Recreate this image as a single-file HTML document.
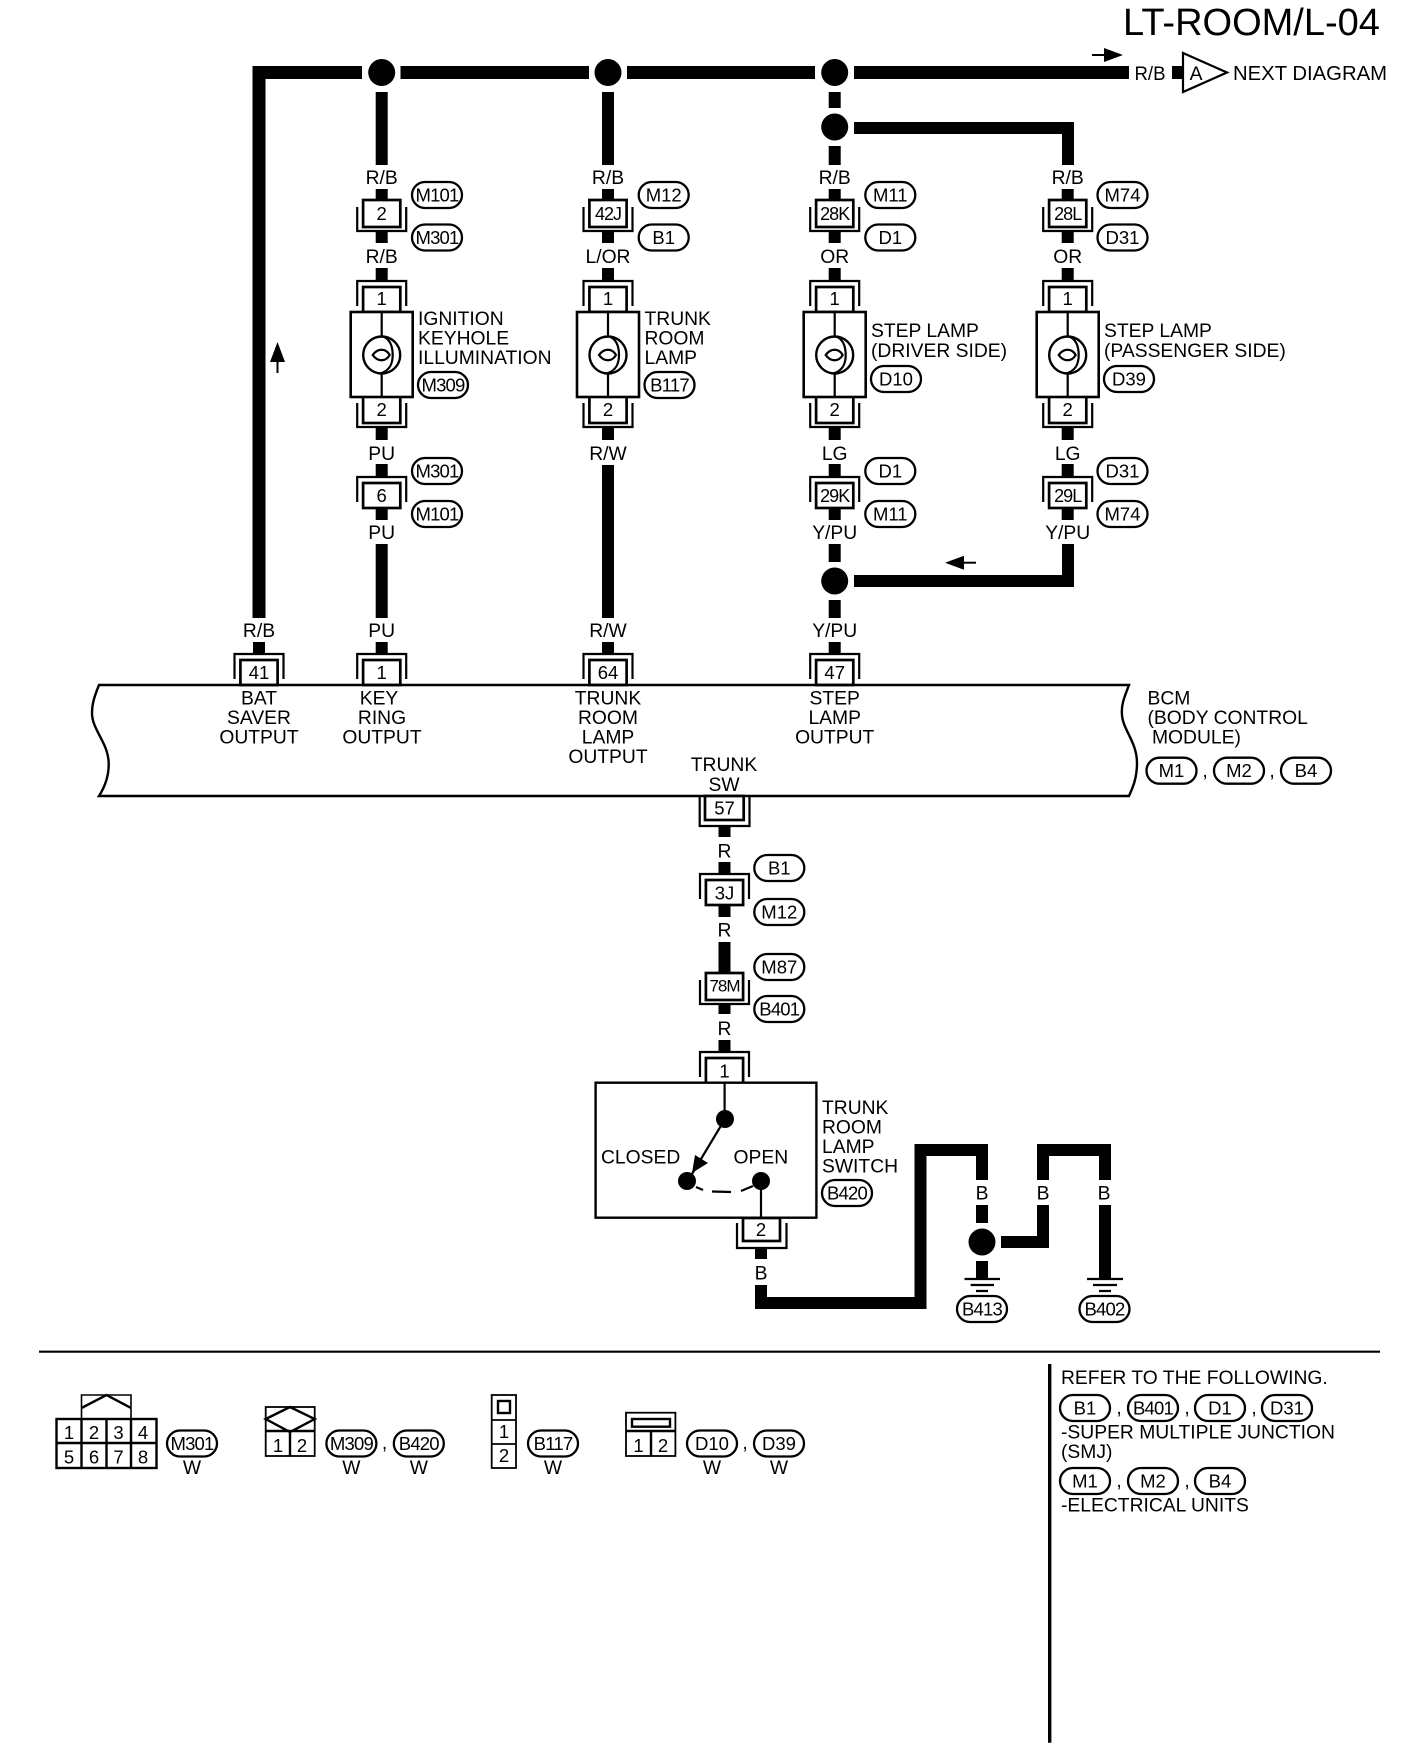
<!DOCTYPE html>
<html>
<head>
<meta charset="utf-8">
<style>
html,body{margin:0;padding:0;background:#fff;}
svg{display:block;}
text{font-family:"Liberation Sans",sans-serif;font-size:19.3px;fill:#000;}
.c{text-anchor:middle;}
.n{font-size:18.5px;text-anchor:middle;}
.n3{font-size:18px;letter-spacing:-1px;text-anchor:middle;}
.p{font-size:18.5px;letter-spacing:-0.8px;text-anchor:middle;}
.ps{font-size:18.5px;text-anchor:middle;}
.w{fill:none;stroke:#000;stroke-width:12;stroke-linejoin:miter;}
.t{fill:none;stroke:#000;stroke-width:2.2;}
.box{fill:#fff;stroke:#000;stroke-width:2.7;}
</style>
</head>
<body>
<svg xmlns="http://www.w3.org/2000/svg" width="1408" height="1750" viewBox="0 0 1408 1750">
<defs>
<g id="A"><path class="t" d="M-24.5 7V31H24.5V7"/><rect class="box" x="-18.6" y="0" width="37.2" height="27"/></g>
<g id="B"><path class="t" d="M-24.5 26V1H24.5V26"/><rect class="box" x="-18.6" y="7" width="37.2" height="25"/></g>
<g id="L"><rect x="-31" y="0" width="62" height="85" fill="#fff" stroke="#000" stroke-width="2.6"/>
<circle cx="0" cy="43" r="18.5" fill="#fff" stroke="#000" stroke-width="2.4"/>
<path class="t" d="M0 0V24C8 26 11 34 11 43C11 52 8 58 0 61V85"/>
<path class="t" d="M-9 43C-4 36 4 36 8 43C4 50 -4 50 -9 43Z"/></g>
<rect id="P" x="-25" y="-13" width="50" height="26" rx="13" ry="13" fill="#fff" stroke="#000" stroke-width="2.3"/>
</defs>

<!-- title -->
<text x="1123" y="35" style="font-size:38px">LT-ROOM/L-04</text>

<!-- main wires -->
<path class="w" style="stroke-width:13" d="M362 72.5H259V618"/>
<path class="w" style="stroke-width:13" d="M400.5 72.5H589M627 72.5H815M854 72.5H1129"/>
<circle cx="381.7" cy="72.5" r="13.5"/><circle cx="608" cy="72.5" r="13.5"/><circle cx="834.7" cy="72.5" r="13.5"/>
<rect x="1172" y="66" width="10" height="13"/>
<path d="M1183 53L1227 72.5L1183 92Z" fill="#fff" stroke="#000" stroke-width="2.2"/>
<text class="c" x="1196" y="80">A</text>
<text x="1134.5" y="80" textLength="31" lengthAdjust="spacingAndGlyphs">R/B</text>
<text x="1233" y="80" style="font-size:20.3px">NEXT DIAGRAM</text>
<!-- flow arrows -->
<path d="M1092 55H1106" stroke="#000" stroke-width="2"/><path d="M1123 55L1104 48V62Z"/>
<path d="M277.5 373V360" stroke="#000" stroke-width="2"/><path d="M277.5 342L270 362H285Z"/>
<path d="M976 562.7H962" stroke="#000" stroke-width="2"/><path d="M945 562.7L964 555.7V569.7Z"/>

<!-- column wires -->
<path class="w" d="M381.7 92V165M381.7 189V200M381.7 232V243M381.7 268V280M381.7 428V440M381.7 464V476M381.7 508V520M381.7 544V618M381.7 642V653"/>
<path class="w" d="M608 92V165M608 189V200M608 232V243M608 268V280M608 428V440M608 465V618M608 642V653"/>
<path class="w" d="M834.7 92V108M834.7 146V165M834.7 189V200M834.7 232V243M834.7 268V280M834.7 428V440M834.7 464V476M834.7 508V520M834.7 544V562M834.7 600V618M834.7 642V653"/>
<path class="w" d="M854 128H1068V165M1067.7 189V200M1067.7 232V243M1067.7 268V280M1067.7 428V440M1067.7 464V476M1067.7 508V520M1068 544V581H854"/>
<path class="w" d="M259 642V653"/>
<circle cx="834.7" cy="127" r="13.5"/><circle cx="834.7" cy="581" r="13.5"/>

<!-- connectors column 1 -->
<use href="#A" x="381.7" y="200"/><use href="#B" x="381.7" y="280"/><use href="#A" x="381.7" y="396"/><use href="#L" x="381.7" y="312"/><use href="#B" x="381.7" y="476"/><use href="#B" x="381.7" y="653"/>
<!-- column 2 -->
<use href="#A" x="608" y="200"/><use href="#B" x="608" y="280"/><use href="#A" x="608" y="396"/><use href="#L" x="608" y="312"/><use href="#B" x="608" y="653"/>
<!-- column 3 -->
<use href="#A" x="834.7" y="200"/><use href="#B" x="834.7" y="280"/><use href="#A" x="834.7" y="396"/><use href="#L" x="834.7" y="312"/><use href="#B" x="834.7" y="476"/><use href="#B" x="834.7" y="653"/>
<!-- column 4 -->
<use href="#A" x="1067.7" y="200"/><use href="#B" x="1067.7" y="280"/><use href="#A" x="1067.7" y="396"/><use href="#L" x="1067.7" y="312"/><use href="#B" x="1067.7" y="476"/>
<!-- col 0 -->
<use href="#B" x="259" y="653"/>

<!-- BCM -->
<path d="M99 685H1129C1124 698 1121 705 1122 715C1123 730 1137 742 1137 763C1137 778 1133 787 1129 796H99C106 785 109 775 108.7 763C108 742 92 730 92 713C92 703 95 695 99 685Z" fill="none" stroke="#000" stroke-width="2.4"/>

<!-- wire labels -->
<text class="c" x="381.7" y="184">R/B</text><text class="c" x="381.7" y="263">R/B</text><text class="c" x="381.7" y="460">PU</text><text class="c" x="381.7" y="539">PU</text><text class="c" x="381.7" y="637">PU</text>
<text class="c" x="608" y="184">R/B</text><text class="c" x="608" y="263">L/OR</text><text class="c" x="608" y="460">R/W</text><text class="c" x="608" y="637">R/W</text>
<text class="c" x="834.7" y="184">R/B</text><text class="c" x="834.7" y="263">OR</text><text class="c" x="834.7" y="460">LG</text><text class="c" x="834.7" y="539">Y/PU</text><text class="c" x="834.7" y="637">Y/PU</text>
<text class="c" x="1067.7" y="184">R/B</text><text class="c" x="1067.7" y="263">OR</text><text class="c" x="1067.7" y="460">LG</text><text class="c" x="1067.7" y="539">Y/PU</text>
<text class="c" x="259" y="637">R/B</text>

<!-- connector numbers -->
<text class="n" x="381.7" y="220">2</text><text class="n" x="381.7" y="305">1</text><text class="n" x="381.7" y="416">2</text><text class="n" x="381.7" y="502">6</text><text class="n" x="381.7" y="679">1</text>
<text class="n3" x="608" y="220">42J</text><text class="n" x="608" y="305">1</text><text class="n" x="608" y="416">2</text><text class="n" x="608" y="679">64</text>
<text class="n3" x="834.7" y="220">28K</text><text class="n" x="834.7" y="305">1</text><text class="n" x="834.7" y="416">2</text><text class="n3" x="834.7" y="502">29K</text><text class="n" x="834.7" y="679">47</text>
<text class="n3" x="1067.7" y="220">28L</text><text class="n" x="1067.7" y="305">1</text><text class="n" x="1067.7" y="416">2</text><text class="n3" x="1067.7" y="502">29L</text>
<text class="n" x="259" y="679">41</text>

<!-- pills -->
<use href="#P" x="437" y="195"/><text class="p" x="437" y="201.5">M101</text>
<use href="#P" x="437" y="237.5"/><text class="p" x="437" y="244">M301</text>
<use href="#P" x="663.7" y="195"/><text class="ps" x="663.7" y="201.5">M12</text>
<use href="#P" x="663.7" y="237.5"/><text class="ps" x="663.7" y="244">B1</text>
<use href="#P" x="890.3" y="195"/><text class="ps" x="890.3" y="201.5">M11</text>
<use href="#P" x="890.3" y="237.5"/><text class="ps" x="890.3" y="244">D1</text>
<use href="#P" x="1122.5" y="195"/><text class="ps" x="1122.5" y="201.5">M74</text>
<use href="#P" x="1122.5" y="237.5"/><text class="ps" x="1122.5" y="244">D31</text>
<use href="#P" x="443" y="385"/><text class="p" x="443" y="391.5">M309</text>
<use href="#P" x="669.5" y="385"/><text class="p" x="669.5" y="391.5">B117</text>
<use href="#P" x="896" y="379"/><text class="ps" x="896" y="385.5">D10</text>
<use href="#P" x="1129" y="379"/><text class="ps" x="1129" y="385.5">D39</text>
<use href="#P" x="437" y="471"/><text class="p" x="437" y="477.5">M301</text>
<use href="#P" x="437" y="514"/><text class="p" x="437" y="520.5">M101</text>
<use href="#P" x="890.3" y="471"/><text class="ps" x="890.3" y="477.5">D1</text>
<use href="#P" x="890.3" y="514"/><text class="ps" x="890.3" y="520.5">M11</text>
<use href="#P" x="1122.5" y="471"/><text class="ps" x="1122.5" y="477.5">D31</text>
<use href="#P" x="1122.5" y="514"/><text class="ps" x="1122.5" y="520.5">M74</text>

<!-- component labels -->
<text x="418" y="325">IGNITION</text><text x="418" y="344.5">KEYHOLE</text><text x="418" y="364">ILLUMINATION</text>
<text x="644.5" y="325">TRUNK</text><text x="644.5" y="344.5">ROOM</text><text x="644.5" y="364">LAMP</text>
<text x="871" y="337">STEP LAMP</text><text x="871" y="357">(DRIVER SIDE)</text>
<text x="1104" y="337">STEP LAMP</text><text x="1104" y="357">(PASSENGER SIDE)</text>

<!-- BCM labels -->
<text class="c" x="259" y="704.5">BAT</text><text class="c" x="259" y="724">SAVER</text><text class="c" x="259" y="743.5">OUTPUT</text>
<text class="c" x="379" y="704.5">KEY</text><text class="c" x="382" y="724">RING</text><text class="c" x="382" y="743.5">OUTPUT</text>
<text class="c" x="608" y="704.5">TRUNK</text><text class="c" x="608" y="724">ROOM</text><text class="c" x="608" y="743.5">LAMP</text><text class="c" x="608" y="763">OUTPUT</text>
<text class="c" x="834.7" y="704.5">STEP</text><text class="c" x="834.7" y="724">LAMP</text><text class="c" x="834.7" y="743.5">OUTPUT</text>
<text class="c" x="724" y="771">TRUNK</text><text class="c" x="724" y="791">SW</text>
<text x="1147.5" y="704.5">BCM</text><text x="1147.5" y="724">(BODY CONTROL</text><text x="1152" y="743.5">MODULE)</text>
<use href="#P" x="1171.5" y="770.7"/><text class="ps" x="1171.5" y="777">M1</text>
<text class="c" x="1205" y="777">,</text>
<use href="#P" x="1239" y="770.7"/><text class="ps" x="1239" y="777">M2</text>
<text class="c" x="1272" y="777">,</text>
<use href="#P" x="1306" y="770.7"/><text class="ps" x="1306" y="777">B4</text>

<!-- trunk sw line -->
<path class="w" d="M724.5 826V837M724.5 862V874M724.5 906V917M724.5 942V973M724.5 1004V1014M724.5 1040V1052"/>
<path class="t" d="M699.7 796V826H749.5V796"/><rect class="box" x="705" y="796" width="38.7" height="24"/>
<text class="n" x="724.5" y="814.5">57</text>
<text class="c" x="724.5" y="857.5">R</text>
<use href="#P" x="779.3" y="868"/><text class="ps" x="779.3" y="874.5">B1</text>
<use href="#B" x="724.5" y="873"/><text class="n" x="724.5" y="899.5">3J</text>
<text class="c" x="724.5" y="936.5">R</text>
<use href="#P" x="779.3" y="912"/><text class="ps" x="779.3" y="918.5">M12</text>
<use href="#P" x="779.3" y="967"/><text class="ps" x="779.3" y="973.5">M87</text>
<use href="#A" x="724.5" y="973"/><text class="n3" x="724.5" y="991.5" style="font-size:17px">78M</text>
<use href="#P" x="779.3" y="1009"/><text class="p" x="779.3" y="1015.5">B401</text>
<text class="c" x="724.5" y="1035">R</text>
<use href="#B" x="724.5" y="1051"/><text class="n" x="724.5" y="1077.5">1</text>

<!-- switch -->
<rect x="595.6" y="1082.7" width="220.8" height="135" fill="#fff" stroke="#000" stroke-width="2.4"/>
<path class="t" d="M724.6 1083V1118M761 1181V1218M725 1119L689 1179"/>
<circle cx="725" cy="1119" r="9"/><circle cx="687" cy="1181" r="9"/><circle cx="761" cy="1181" r="9"/>
<path d="M692 1173L695 1155L708 1163Z"/>
<path class="t" d="M696 1187L703 1190M712 1191.5L731 1192M741 1191L753 1186"/>
<text x="601" y="1163.5">CLOSED</text><text x="733.5" y="1163.5">OPEN</text>
<text x="822" y="1114">TRUNK</text><text x="822" y="1133.5">ROOM</text><text x="822" y="1153">LAMP</text><text x="822" y="1172.5">SWITCH</text>
<use href="#P" x="847" y="1193"/><text class="p" x="847" y="1199.5">B420</text>

<path class="t" d="M737 1223V1248H786.5V1223"/><rect class="box" x="743" y="1218" width="37" height="23"/>
<text class="n" x="761" y="1236">2</text>
<path class="w" d="M761 1248V1259M761 1285V1303H920.5V1150H982V1180M982 1205V1223M982 1261V1278M1001 1242H1043V1205M1043 1180V1150H1105V1180M1105 1205V1278"/>
<circle cx="982" cy="1242" r="13.5"/>
<text class="c" x="761" y="1279.5">B</text><text class="c" x="982" y="1199.5">B</text><text class="c" x="1043" y="1199.5">B</text><text class="c" x="1104" y="1199.5">B</text>
<path class="t" d="M964.5 1279H1000M970.6 1285H994M976 1291H988M1087 1279H1123M1093 1285H1117M1099 1291H1111"/>
<use href="#P" x="982" y="1309"/><text class="p" x="982" y="1315.5">B413</text>
<use href="#P" x="1104.5" y="1309"/><text class="p" x="1104.5" y="1315.5">B402</text>

<!-- separators -->
<path d="M39 1351.7H1380" stroke="#000" stroke-width="2.2"/>
<path d="M1049.7 1364V1742.7" stroke="#000" stroke-width="3.4"/>

<!-- connector views -->
<g fill="none" stroke="#000" stroke-width="2.4">
<rect x="56.5" y="1419" width="100" height="49" fill="#fff"/>
<path d="M56.5 1443H156.5M81.5 1419V1468M106.5 1419V1468M131 1419V1468"/>
<path stroke-width="1.6" d="M81.5 1419V1395H131V1419"/><path d="M81.5 1408L106.5 1395L131 1408"/>
<rect x="265.7" y="1407" width="49" height="49" stroke-width="1.8"/>
<path d="M265.7 1431H314.7M290 1431V1456M265.7 1419L290 1407L314.7 1419L290 1432Z"/>
<rect x="491.7" y="1395" width="24.3" height="73" stroke-width="1.8"/>
<path stroke-width="1.8" d="M491.7 1420H516M491.7 1444H516"/>
<rect x="498" y="1401" width="12" height="12"/>
<rect x="626" y="1412.7" width="49.4" height="43.3" stroke-width="1.8"/>
<path d="M626 1431H675.4M651 1431V1456"/>
<rect x="632" y="1419" width="38" height="7.7"/>
</g>
<text class="n" x="69" y="1439">1</text><text class="n" x="94" y="1439">2</text><text class="n" x="118.5" y="1439">3</text><text class="n" x="143" y="1439">4</text>
<text class="n" x="69" y="1463.5">5</text><text class="n" x="94" y="1463.5">6</text><text class="n" x="118.5" y="1463.5">7</text><text class="n" x="143" y="1463.5">8</text>
<text class="n" x="278" y="1452">1</text><text class="n" x="302" y="1452">2</text>
<text class="n" x="504" y="1438">1</text><text class="n" x="504" y="1462">2</text>
<text class="n" x="638.5" y="1452">1</text><text class="n" x="663" y="1452">2</text>

<use href="#P" x="192" y="1443.5"/><text class="p" x="192" y="1450">M301</text><text class="c" x="192" y="1474">W</text>
<use href="#P" x="351.4" y="1443.5"/><text class="p" x="351.4" y="1450">M309</text><text class="c" x="351.4" y="1474">W</text>
<text class="c" x="384.6" y="1449">,</text>
<use href="#P" x="418.8" y="1443.5"/><text class="p" x="418.8" y="1450">B420</text><text class="c" x="418.8" y="1474">W</text>
<use href="#P" x="553" y="1443.5"/><text class="p" x="553" y="1450">B117</text><text class="c" x="553" y="1474">W</text>
<use href="#P" x="712" y="1443.5"/><text class="ps" x="712" y="1450">D10</text><text class="c" x="712" y="1474">W</text>
<text class="c" x="745" y="1449">,</text>
<use href="#P" x="779" y="1443.5"/><text class="ps" x="779" y="1450">D39</text><text class="c" x="779" y="1474">W</text>

<!-- notes -->
<text x="1061" y="1384">REFER TO THE FOLLOWING.</text>
<use href="#P" x="1085" y="1408"/><text class="ps" x="1085" y="1414.5">B1</text><text class="c" x="1119" y="1414">,</text>
<use href="#P" x="1153" y="1408"/><text class="p" x="1153" y="1414.5">B401</text><text class="c" x="1187" y="1414">,</text>
<use href="#P" x="1220" y="1408"/><text class="ps" x="1220" y="1414.5">D1</text><text class="c" x="1254" y="1414">,</text>
<use href="#P" x="1287" y="1408"/><text class="ps" x="1287" y="1414.5">D31</text>
<text x="1061" y="1438.5">-SUPER MULTIPLE JUNCTION</text>
<text x="1061" y="1458">(SMJ)</text>
<use href="#P" x="1085" y="1481"/><text class="ps" x="1085" y="1487.5">M1</text><text class="c" x="1119" y="1487">,</text>
<use href="#P" x="1153" y="1481"/><text class="ps" x="1153" y="1487.5">M2</text><text class="c" x="1187" y="1487">,</text>
<use href="#P" x="1220" y="1481"/><text class="ps" x="1220" y="1487.5">B4</text>
<text x="1061" y="1511.5">-ELECTRICAL UNITS</text>
</svg>
</body>
</html>
